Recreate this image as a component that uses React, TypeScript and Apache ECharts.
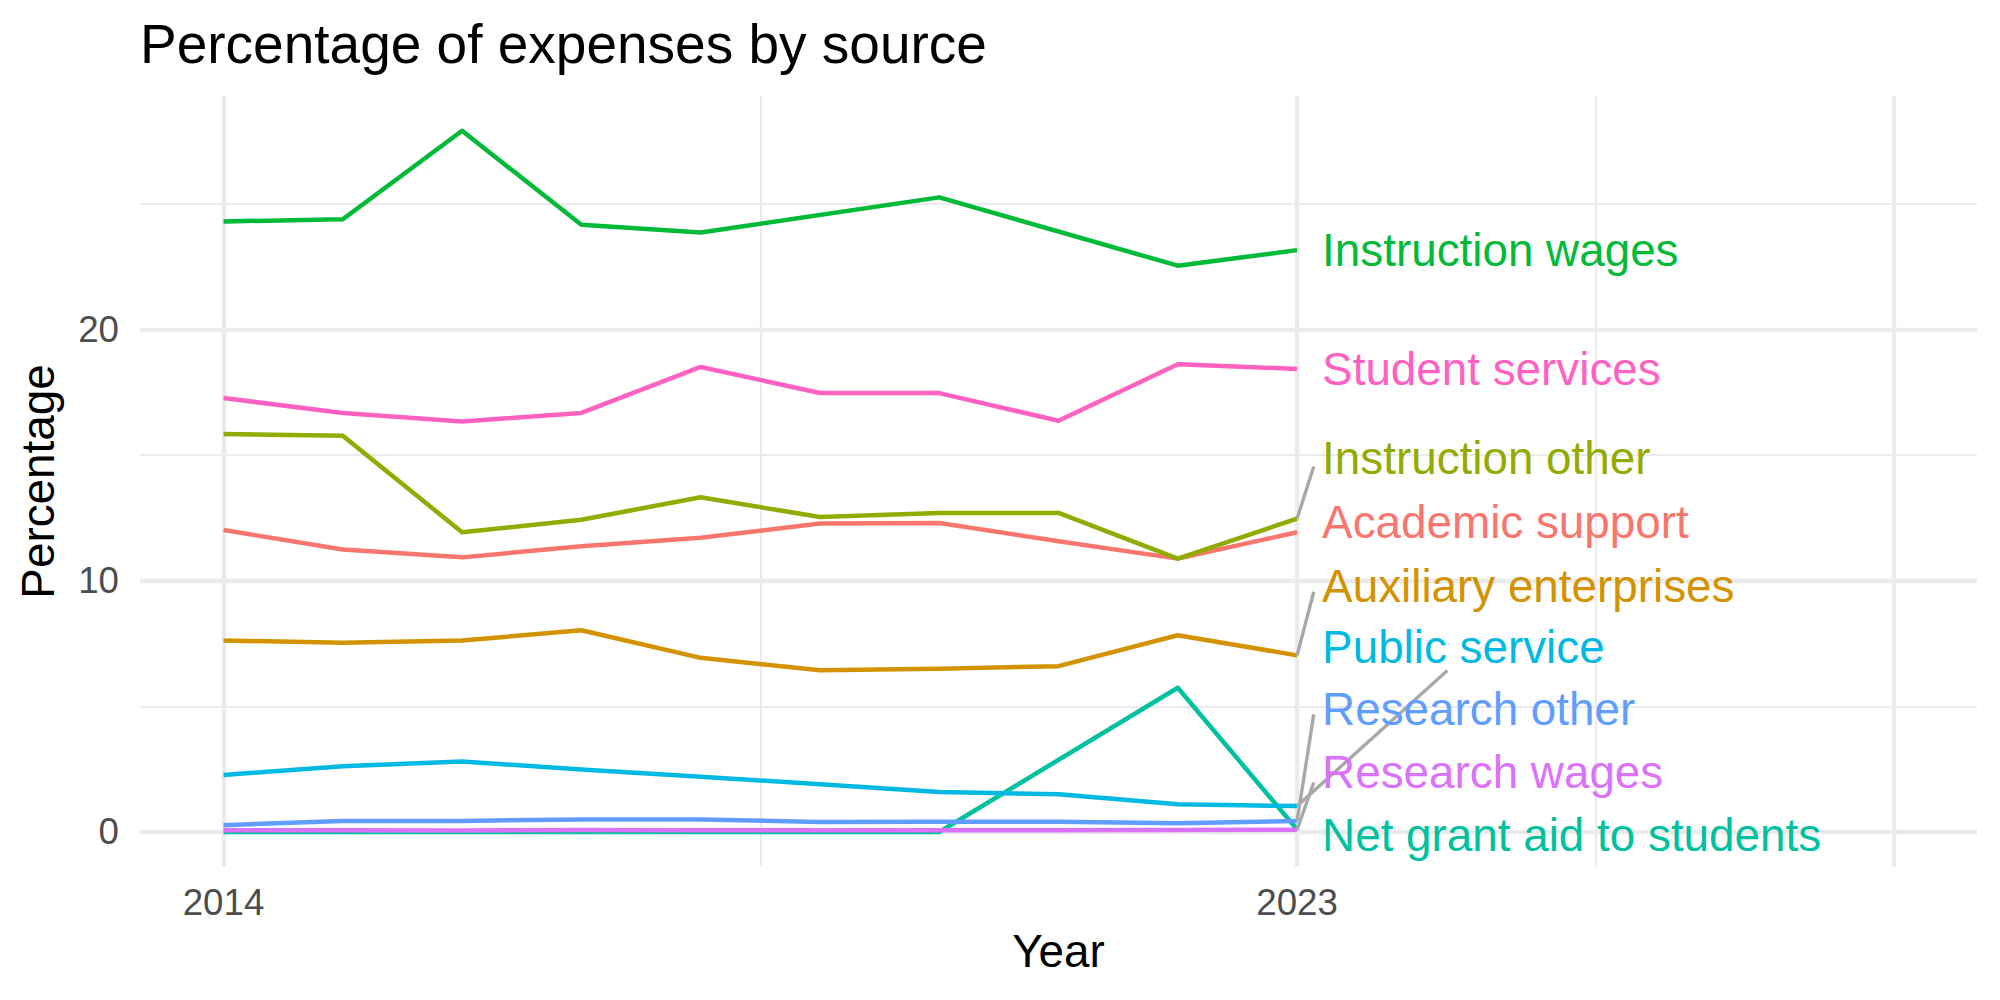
import React, { useEffect, useRef } from "react";
import * as echarts from "echarts";

// ---- data ----
const years = [2014, 2015, 2016, 2017, 2018, 2019, 2020, 2021, 2022, 2023];

const seriesNames = [
  "Academic support",
  "Auxiliary enterprises",
  "Instruction other",
  "Instruction wages",
  "Net grant aid to students",
  "Public service",
  "Research other",
  "Research wages",
  "Student services",
];

const academicSupport = [12.02, 11.24, 10.93, 11.37, 11.71, 12.28, 12.3, 11.57, 10.88, 11.93];
const auxiliaryEnterprises = [7.62, 7.53, 7.62, 8.03, 6.93, 6.44, 6.5, 6.6, 7.83, 7.03];
const instructionOther = [15.84, 15.77, 11.93, 12.43, 13.32, 12.54, 12.7, 12.7, 10.88, 12.47];
const instructionWages = [24.3, 24.39, 27.91, 24.17, 23.86, null, 25.26, null, 22.54, 23.16];
const netGrantAid = [0, 0, 0, 0, 0, 0, 0, null, 5.74, 0.1];
const publicService = [2.27, 2.62, 2.8, 2.49, 2.2, 1.9, 1.59, 1.5, 1.1, 1.03];
const researchOther = [0.27, 0.44, 0.44, 0.5, 0.5, 0.4, 0.41, 0.41, 0.35, 0.44];
const researchWages = [0.07, 0.07, 0.06, 0.08, 0.07, 0.07, 0.07, 0.07, 0.08, 0.09];
const studentServices = [17.27, 16.68, 16.34, 16.68, 18.51, 17.47, 17.47, 16.37, 18.62, 18.43];

const seriesValues = [
  academicSupport,
  auxiliaryEnterprises,
  instructionOther,
  instructionWages,
  netGrantAid,
  publicService,
  researchOther,
  researchWages,
  studentServices,
];

// repelled label positions (data units)
const labelYear = 2023.21;
const labelValues = [12.32, 9.79, 14.87, 23.13, -0.14, 7.36, 4.87, 2.36, 18.42];

// connector segments: series index -> segment end (data units)
const segmentSeries = [2, 1, 5, 6, 7];
const segmentEndYear = [2023.14, 2023.14, 2024.26, 2023.14, 2023.14];
const segmentEndValue = [14.55, 9.56, 6.43, 4.68, 1.97];

// axes
const xTickValues = [2014, 2023];
const yTickValues = [0, 10, 20];
const xMajorGrid = [2014, 2023, 2028];
const xMinorGrid = [2018.5, 2025.5];
const yMajorGrid = [0, 10, 20];
const yMinorGrid = [5, 15, 25];
const xRange = [2013.3, 2028.7];
const yRange = [-1.395, 29.295];

const palette = [
  "#F8766D",
  "#D39200",
  "#93AA00",
  "#00BA38",
  "#00C19F",
  "#00B9E3",
  "#619CFF",
  "#DB72FB",
  "#FF61C3",
];

const FONT = "'Liberation Sans', Arial, Helvetica, sans-serif";

export default function App() {
  const ref = useRef<HTMLDivElement>(null);

  useEffect(() => {
    document.body.style.margin = "0";
    if (!ref.current) return;
    const chart = echarts.init(ref.current, undefined, { renderer: "svg" });

    const gridColor = "#EBEBEB";
    const gridLines: any[] = [
      ...yMinorGrid.map((v) => ({ yAxis: v, lineStyle: { color: gridColor, width: 2.2, type: "solid" } })),
      ...xMinorGrid.map((v) => ({ xAxis: v, lineStyle: { color: gridColor, width: 2.2, type: "solid" } })),
      ...yMajorGrid.map((v) => ({ yAxis: v, lineStyle: { color: gridColor, width: 4.4, type: "solid" } })),
      ...xMajorGrid.map((v) => ({ xAxis: v, lineStyle: { color: gridColor, width: 4.4, type: "solid" } })),
    ];

    const dataSeries = seriesNames.map((name, i) => ({
      type: "line",
      name,
      data: years.map((y, j) => [y, seriesValues[i][j]]),
      connectNulls: true,
      showSymbol: false,
      symbol: "none",
      silent: true,
      z: 2,
      lineStyle: { color: palette[i], width: 4.5, join: "round", cap: "butt" },
      itemStyle: { color: palette[i] },
    }));

    const segSeries = segmentSeries.map((si, k) => ({
      type: "line",
      name: "seg" + k,
      data: [
        [years[years.length - 1], seriesValues[si][years.length - 1]],
        [segmentEndYear[k], segmentEndValue[k]],
      ],
      showSymbol: false,
      symbol: "none",
      silent: true,
      z: 3,
      lineStyle: { color: "#A8A8A8", width: 3.4 },
    }));

    const labelSeries = {
      type: "scatter",
      name: "labels",
      symbolSize: 0,
      silent: true,
      z: 4,
      itemStyle: { opacity: 1 },
      data: seriesNames.map((n, i) => ({
        name: n,
        value: [labelYear, labelValues[i]],
        label: { color: palette[i] },
        itemStyle: { opacity: 1, color: palette[i] },
      })),
      label: {
        show: true,
        position: "right",
        distance: 0,
        formatter: "{b}",
        fontSize: 45.8,
        fontFamily: FONT,
        opacity: 1,
      },
    };

    const option: any = {
      animation: false,
      backgroundColor: "#FFFFFF",
      title: {
        text: "Percentage of expenses by source",
        left: 140,
        top: 16,
        padding: 0,
        textStyle: { fontSize: 55, fontWeight: "normal", color: "#000000", fontFamily: FONT },
      },
      grid: { left: 140, right: 23, top: 96, bottom: 133, containLabel: false },
      xAxis: {
        type: "value",
        min: xRange[0],
        max: xRange[1],
        name: "Year",
        nameLocation: "middle",
        nameGap: 61,
        nameTextStyle: { fontSize: 45.8, color: "#000000", fontFamily: FONT },
        axisLine: { show: false },
        axisTick: { show: false },
        splitLine: { show: false },
        axisLabel: {
          customValues: xTickValues,
          formatter: (v: number) => String(v),
          fontSize: 36.7,
          color: "#4D4D4D",
          fontFamily: FONT,
          margin: 17,
        },
      },
      yAxis: {
        type: "value",
        min: yRange[0],
        max: yRange[1],
        name: "Percentage",
        nameLocation: "middle",
        nameGap: 79,
        nameTextStyle: { fontSize: 45.8, color: "#000000", fontFamily: FONT },
        axisLine: { show: false },
        axisTick: { show: false },
        splitLine: { show: false },
        axisLabel: {
          customValues: yTickValues,
          formatter: (v: number) => String(v),
          fontSize: 36.7,
          color: "#4D4D4D",
          fontFamily: FONT,
          margin: 21,
        },
      },
      series: [
        {
          type: "line",
          name: "gridlines",
          data: [],
          silent: true,
          z: 0,
          markLine: {
            silent: true,
            animation: false,
            z: 0,
            zlevel: 0,
            symbol: ["none", "none"],
            label: { show: false },
            emphasis: { disabled: true },
            lineStyle: { type: "solid" },
            data: gridLines,
          },
        },
        ...dataSeries,
        ...segSeries,
        labelSeries,
      ],
    };

    chart.setOption(option);
    return () => chart.dispose();
  }, []);

  return <div ref={ref} style={{ width: 2000, height: 1000 }} />;
}
